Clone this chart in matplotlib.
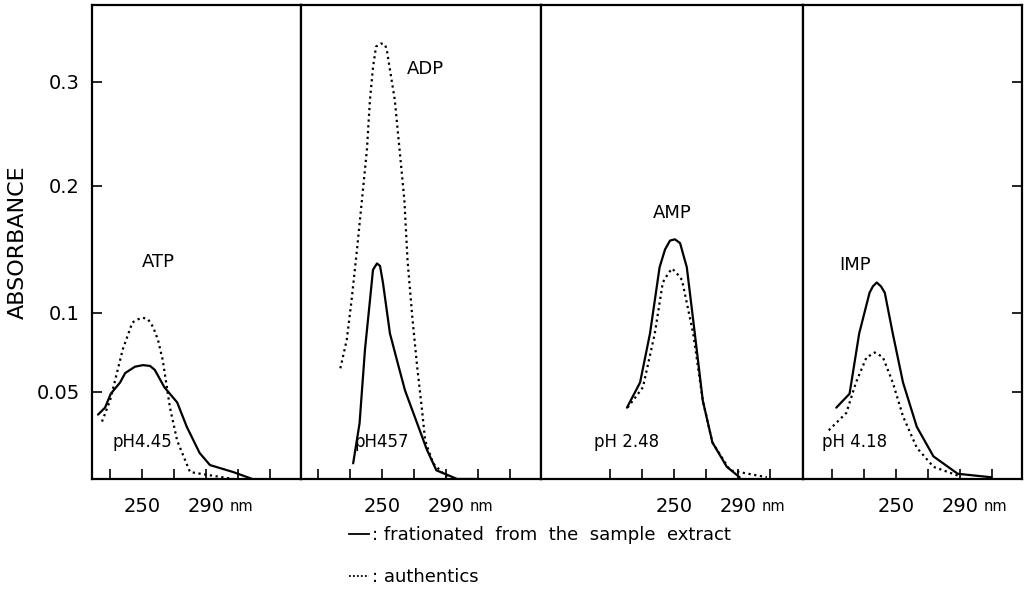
import matplotlib
matplotlib.use("Agg")
import matplotlib.pyplot as plt
from matplotlib.lines import Line2D
import numpy as np

# absorbance spectra (wavelength nm, absorbance)
atp_solid_nm = [222.5, 226.9, 230.5, 236.3, 239.5, 245.6, 250.6, 255, 258, 264, 272, 278, 286, 292.5, 307, 319]
atp_solid_abs = [0.037, 0.041, 0.049, 0.056, 0.062, 0.066, 0.067, 0.0665, 0.064, 0.053, 0.044, 0.030,
                 0.015, 0.008, 0.004, 0.0]
atp_auth_nm = [225, 230, 238, 244, 247.5, 250.6, 253.8, 257, 260, 263, 267.5, 272, 280, 307]
atp_auth_abs = [0.033, 0.045, 0.077, 0.094, 0.096, 0.097, 0.096, 0.091, 0.083, 0.070, 0.041, 0.022,
                0.004, 0.0]

adp_solid_nm = [232, 236, 239.4, 242.5, 244.4, 246.9, 248.8, 250.6, 255, 259.4, 264.4, 272, 278, 284, 297, 309]
adp_solid_abs = [0.009, 0.032, 0.077, 0.110, 0.134, 0.139, 0.137, 0.124, 0.087, 0.070, 0.051, 0.032,
                 0.017, 0.005, 0.0, 0.0]
adp_auth_nm = [224, 228, 231, 234.4, 237.5, 240.6, 242.5, 244.4, 246.3, 249.4, 251.9, 253, 258, 261, 264,
               266, 269, 272, 275, 277, 282, 290.6]
adp_auth_abs = [0.065, 0.083, 0.110, 0.150, 0.189, 0.235, 0.283, 0.314, 0.334, 0.337, 0.336, 0.331, 0.283,
                0.235, 0.189, 0.141, 0.097, 0.066, 0.040, 0.022, 0.009, 0.001]

amp_solid_nm = [220.6, 228.8, 235, 241, 244.4, 247.5, 250.6, 253.8, 258, 263, 268, 274, 283, 291]
amp_solid_abs = [0.041, 0.056, 0.087, 0.136, 0.150, 0.157, 0.158, 0.155, 0.136, 0.087, 0.045, 0.021,
                 0.007, 0.001]
amp_auth_nm = [221, 230.6, 238, 243, 246.3, 248.8, 251.9, 255, 262, 268, 274, 285, 308]
amp_auth_abs = [0.041, 0.053, 0.087, 0.124, 0.131, 0.135, 0.131, 0.126, 0.087, 0.045, 0.021, 0.005, 0.001]

imp_solid_nm = [212.7, 221, 227, 233.5, 235.6, 238, 240.6, 243, 248, 254.4, 263, 273.4, 288.6, 309.5]
imp_solid_abs = [0.041, 0.049, 0.087, 0.116, 0.121, 0.124, 0.121, 0.116, 0.087, 0.056, 0.030, 0.013,
                 0.003, 0.001]
imp_auth_nm = [208, 219, 225, 231.6, 234.4, 236.7, 239.4, 241.8, 248, 254.4, 263, 273.4, 288.6]
imp_auth_abs = [0.028, 0.038, 0.056, 0.072, 0.0735, 0.075, 0.0735, 0.072, 0.056, 0.036, 0.018, 0.007, 0.002]

names = ["ATP", "ADP", "AMP", "IMP"]
ph_labels = ["pH4.45", "pH457", "pH 2.48", "pH 4.18"]
solid = [(atp_solid_nm, atp_solid_abs), (adp_solid_nm, adp_solid_abs),
         (amp_solid_nm, amp_solid_abs), (imp_solid_nm, imp_solid_abs)]
auth = [(atp_auth_nm, atp_auth_abs), (adp_auth_nm, adp_auth_abs),
        (amp_auth_nm, amp_auth_abs), (imp_auth_nm, imp_auth_abs)]

yticks = [0.05, 0.1, 0.2, 0.3]
ytick_labels = ["0.05", "0.1", "0.2", "0.3"]

# the hand drawn ordinate is not linear: piecewise scale through the tick marks
knots_abs = np.array([0.0, 0.05, 0.1, 0.2, 0.3, 0.4])
knots_h = np.array([0.0, 87.0, 166.0, 293.0, 397.0, 501.0])

def fwd(y):
    return np.interp(y, knots_abs, knots_h)

def inv(h):
    return np.interp(h, knots_h, knots_abs)

xlims = [(218.75, 349.4), (199.4, 349.4), (166.9, 330.6), (191.9, 328.75)]
xticks = [np.arange(230, 331, 20), np.arange(210, 331, 20),
          np.arange(210, 311, 20), np.arange(210, 311, 20)]
name_pos = [(260, 0.140), (277, 0.312), (249, 0.179), (224.4, 0.138)]
ph_pos = [(250, 0.021), (250, 0.021), (220.6, 0.021), (224.4, 0.021)]

plt.rcParams['font.family'] = ['DejaVu Sans']
fig = plt.figure(figsize=(10.28, 5.91), dpi=100)
gs = fig.add_gridspec(1, 4, width_ratios=[209, 240, 262, 219], wspace=0,
                      left=92 / 1028, right=1022 / 1028, bottom=1 - 479 / 591, top=1 - 5 / 591)

for i in range(4):
    ax = fig.add_subplot(gs[0, i])
    ax.set_yscale('function', functions=(fwd, inv))
    ax.set_ylim(0, 0.374)
    ax.set_xlim(*xlims[i])
    ax.plot(solid[i][0], solid[i][1], color='black', lw=1.6,
            solid_capstyle='round', solid_joinstyle='round')
    ax.plot(auth[i][0], auth[i][1], color='black', lw=1.6, linestyle=(0, (1, 1.6)))
    for s in ax.spines.values():
        s.set_linewidth(1.6)
    ax.set_xticks(xticks[i])
    ax.set_xticklabels(["250" if t == 250 else ("290" if t == 290 else "") for t in xticks[i]],
                       fontsize=14)
    ax.tick_params(axis='x', direction='in', length=7, width=1.2, pad=13)
    ax.annotate("nm", xy=(290, 0), xycoords=('data', 'axes fraction'), xytext=(17, -23),
                textcoords='offset points', fontsize=10.5, va='baseline', ha='left')
    if i == 0:
        ax.set_yticks(yticks)
        ax.set_yticklabels(ytick_labels, fontsize=14)
        ax.tick_params(axis='y', direction='in', length=7, width=1.2, pad=9)
        ax.set_ylabel("ABSORBANCE", fontsize=16, labelpad=6)
    elif i == 3:
        ax.set_yticks(yticks)
        ax.yaxis.tick_right()
        ax.set_yticklabels([])
        ax.tick_params(axis='y', direction='in', length=7, width=1.2)
    else:
        ax.set_yticks([])
    ax.yaxis.set_minor_locator(plt.NullLocator())
    ax.text(name_pos[i][0], name_pos[i][1], names[i], fontsize=13, ha='center', va='center')
    ax.text(ph_pos[i][0], ph_pos[i][1], ph_labels[i], fontsize=12, ha='center', va='center')

handles = [Line2D([], [], color='black', lw=1.3),
           Line2D([], [], color='black', lw=1.3, linestyle=(0, (1, 1.2)))]
fig.legend(handles, [": frationated  from  the  sample  extract", ": authentics"],
           loc='upper left', bbox_to_anchor=(349 / 1028, 1 - 526 / 591), frameon=False,
           fontsize=13, handlelength=1.1, handletextpad=0.2, labelspacing=1.35,
           borderaxespad=0, borderpad=0)

fig.savefig("out.png", dpi=100)
